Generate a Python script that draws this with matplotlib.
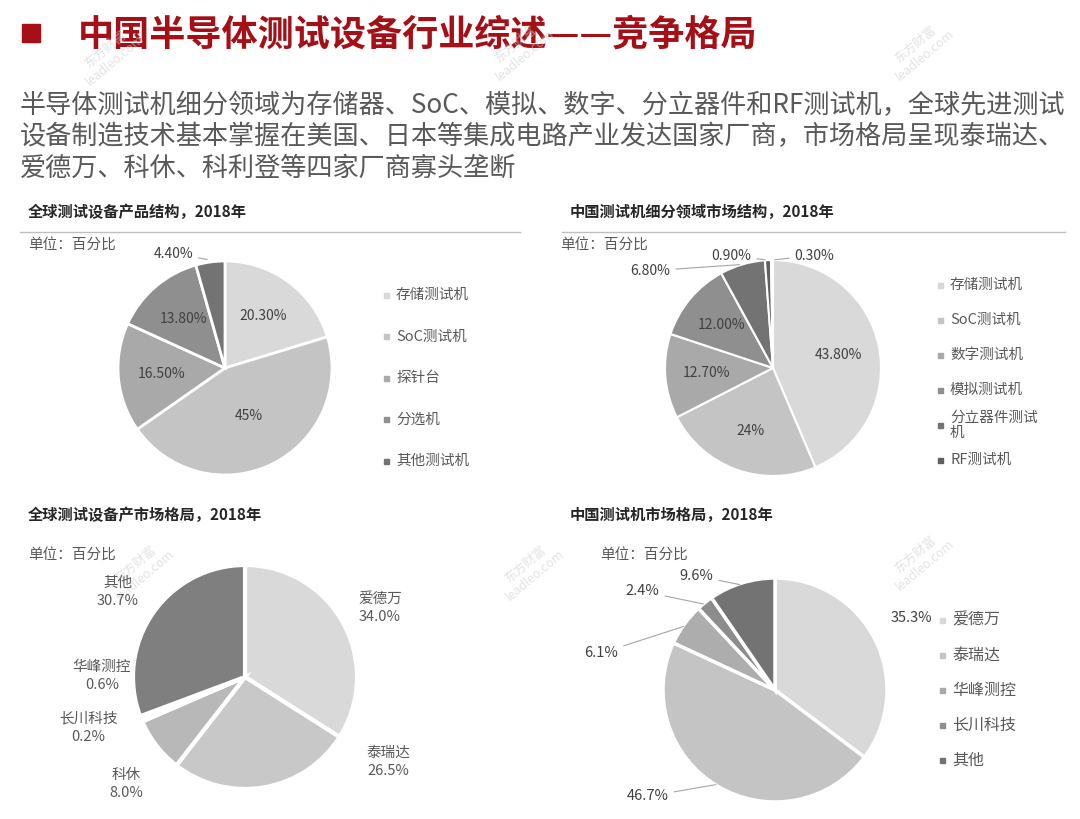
import numpy as np
import matplotlib.pyplot as plt
import matplotlib.patches as patches

plt.rcParams['font.family'] = ['Noto Sans CJK SC', 'DejaVu Sans']

W, H = 1080, 819

# data
p1_labels = ["存储测试机", "SoC测试机", "探针台", "分选机", "其他测试机"]
p1_vals = [20.3, 45, 16.5, 13.8, 4.4]
p1_text = ["20.30%", "45%", "16.50%", "13.80%", "4.40%"]

p2_labels = ["存储测试机", "SoC测试机", "数字测试机", "模拟测试机", "分立器件测试\n机", "RF测试机"]
p2_vals = [43.8, 24, 12.7, 12.0, 6.8, 0.9, 0.3]
p2_text = ["43.80%", "24%", "12.70%", "12.00%", "6.80%", "0.90%", "0.30%"]

p3_names = ["爱德万", "泰瑞达", "科休", "长川科技", "华峰测控", "其他"]
p3_vals = [34.0, 26.5, 8.0, 0.2, 0.6, 30.7]

p4_names = ["爱德万", "泰瑞达", "华峰测控", "长川科技", "其他"]
p4_vals = [35.3, 46.7, 6.1, 2.4, 9.6]

GRAYS = ["#d9d9d9", "#c4c4c4", "#a9a9a9", "#8f8f8f", "#737373", "#5f5f5f", "#4a4a4a"]
TXT = "#404040"

fig = plt.figure(figsize=(W / 100, H / 100), dpi=100)
bg = fig.add_axes([0, 0, 1, 1])
bg.set_xlim(0, W)
bg.set_ylim(H, 0)
bg.axis('off')

# header
bg.add_patch(patches.Rectangle((22, 24), 18, 18, color="#a50f15"))
bg.text(78, 35, "中国半导体测试设备行业综述——竞争格局", fontsize=26, fontweight='bold',
        color="#a50f15", va='center')
sub = ["半导体测试机细分领域为存储器、SoC、模拟、数字、分立器件和RF测试机，全球先进测试",
       "设备制造技术基本掌握在美国、日本等集成电路产业发达国家厂商，市场格局呈现泰瑞达、",
       "爱德万、科休、科利登等四家厂商寡头垄断"]
for i, s in enumerate(sub):
    bg.text(20, 106 + i * 31, s, fontsize=18.8, color="#595959", va='center')

for x0, x1, y, t in [(20, 520, 212, "全球测试设备产品结构，2018年"),
                     (562, 1065, 212, "中国测试机细分领域市场结构，2018年"),
                     (20, 520, 515, "全球测试设备产市场格局，2018年"),
                     (562, 1065, 515, "中国测试机市场格局，2018年")]:
    bg.text(x0 + 8, y, t, fontsize=11, fontweight='bold', color="#262626", va='center')
    if y < 300:
        bg.plot([x0, x1], [y + 20, y + 20], color="#bfbfbf", lw=1)
for x, y in [(28, 246), (560, 246), (28, 556), (600, 556)]:
    bg.text(x, y, "单位：百分比", fontsize=10.5, color="#595959", va='center')

# watermarks
for x, y in [(110, 55), (520, 50), (920, 50), (140, 570), (530, 570), (920, 560)]:
    bg.text(x, y, "东方财富\nleadleo.com", fontsize=9, color="#d0d0d0", rotation=40,
            ha='center', va='center', alpha=0.6)


def pie_axes(cx, cy, r):
    ax = fig.add_axes([(cx - r) / W, 1 - (cy + r) / H, 2 * r / W, 2 * r / H])
    ax.axis('off')
    return ax


def draw_pie(ax, vals, colors, lw=2):
    wedges, _ = ax.pie(vals, colors=colors, startangle=90, counterclock=False, radius=1,
                       wedgeprops=dict(edgecolor='white', linewidth=lw))
    ax.set_xlim(-1, 1)
    ax.set_ylim(-1, 1)
    ax.set_aspect('equal')
    return wedges


def mid(w):
    a = np.deg2rad((w.theta1 + w.theta2) / 2)
    return np.cos(a), np.sin(a)


def legend(items, x, y0, dy, fs=10.5):
    for i, t in enumerate(items):
        y = y0 + i * dy
        bg.add_patch(patches.Rectangle((x, y - 2.5), 5, 5, color=GRAYS[min(i, 6)]))
        bg.text(x + 12, y, t, fontsize=fs, color="#595959", va='center', linespacing=1.1)


# pie 1
ax = pie_axes(225, 368, 107)
ws = draw_pie(ax, p1_vals, GRAYS[:5])
for w, t, d in zip(ws, p1_text, [0.6, 0.5, 0.6, 0.6, 1.2]):
    x, y = mid(w)
    if d > 1:
        ax.annotate(t, xy=(x * 1.02, y * 1.02), xytext=(-0.3, 1.07), fontsize=10, color=TXT,
                    ha='right', va='center', annotation_clip=False,
                    arrowprops=dict(arrowstyle='-', color="#a6a6a6", lw=0.8))
    else:
        ax.text(x * d, y * d, t, fontsize=10, color=TXT, ha='center', va='center')
legend(p1_labels, 384, 295, 41.5)

# pie 2
ax = pie_axes(773, 368, 108)
ws = draw_pie(ax, p2_vals, GRAYS[:7], lw=1.5)
outer = {4: (-0.95, 0.9), 5: (-0.2, 1.04), 6: (0.2, 1.04)}
for i, (w, t) in enumerate(zip(ws, p2_text)):
    x, y = mid(w)
    if i in outer:
        tx, ty = outer[i]
        ax.annotate(t, xy=(x, y), xytext=(tx, ty), fontsize=10, color=TXT,
                    ha='right' if tx < 0 else 'left', va='center', annotation_clip=False,
                    arrowprops=dict(arrowstyle='-', color="#a6a6a6", lw=0.8))
    else:
        ax.text(x * 0.62, y * 0.62, t, fontsize=10, color=TXT, ha='center', va='center')
legend(p2_labels, 938, 285, 35, fs=10.5)

# pie 3
ax = pie_axes(245, 677, 112)
ws = draw_pie(ax, p3_vals, ["#d9d9d9", "#c8c8c8", "#b8b8b8", "#b0b0b0", "#a0a0a0", "#7f7f7f"], lw=3)
pos3 = [(380, 608), (388, 762), (126, 784), (88, 728), (102, 676), (118, 592)]
for (px, py), n, v in zip(pos3, p3_names, p3_vals):
    bg.text(px, py, f"{n}\n{v:.1f}%", fontsize=10.5, color="#595959", ha='center', va='center',
            linespacing=1.4)

# pie 4
ax = pie_axes(775, 690, 112)
ws = draw_pie(ax, p4_vals, ["#d9d9d9", "#c4c4c4", "#adadad", "#8c8c8c", "#737373"], lw=2.5)
lab4 = {0: (1.03, 0.64), 1: (-0.95, -0.95), 2: (-1.4, 0.33), 3: (-1.03, 0.88), 4: (-0.55, 1.02)}
for i, (w, v) in enumerate(zip(ws, p4_vals)):
    x, y = mid(w)
    tx, ty = lab4[i]
    t = f"{v:.1f}%"
    if i == 0:
        ax.text(tx, ty, t, fontsize=10.5, color=TXT, ha='left', va='center')
    else:
        ax.annotate(t, xy=(x * 0.98, y * 0.98), xytext=(tx, ty), fontsize=10.5, color=TXT,
                    ha='right', va='center', annotation_clip=False,
                    arrowprops=dict(arrowstyle='-', color="#a6a6a6", lw=0.8))
legend(p4_names, 940, 620, 35, fs=11.5)

fig.savefig("out.png", dpi=100)
